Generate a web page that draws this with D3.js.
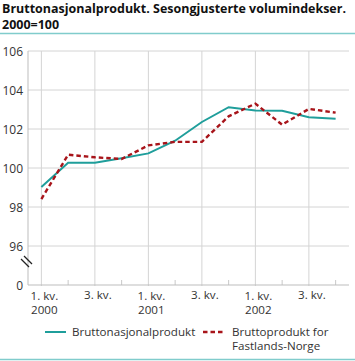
<!DOCTYPE html>
<html><head><meta charset="utf-8">
<script src="https://cdn.jsdelivr.net/npm/d3@7"></script>
<style>
html,body{margin:0;padding:0;background:#fff;}
svg{display:block;font-family:"Open Sans",sans-serif;}
</style></head>
<body>
<svg id="c" width="355" height="361"></svg>
<script>
const quarters = ["2000Q1","2000Q2","2000Q3","2000Q4","2001Q1","2001Q2","2001Q3","2001Q4","2002Q1","2002Q2","2002Q3","2002Q4"];
const bnp = [99.03,100.27,100.27,100.50,100.75,101.40,102.36,103.12,102.95,102.93,102.60,102.52];
const fastland = [98.41,100.68,100.55,100.46,101.16,101.34,101.34,102.65,103.30,102.22,103.03,102.84];
const yTicks = [96,98,100,102,104,106];
const xLabels = [["1. kv.","2000"],["3. kv."],["1. kv.","2001"],["3. kv."],["1. kv.","2002"],["3. kv."]];
const seriesNames = ["Bruttonasjonalprodukt", ["Bruttoprodukt for","Fastlands-Norge"]];
const title = ["Bruttonasjonalprodukt. Sesongjusterte volumindekser.","2000=100"];

const teal = "#1f9e9b", red = "#a8141a", grid = "#d4d4d4", txt = "#333";
const svg = d3.select("#c");
const L = 28, R = 349, T = 51, B = 285;
const x = d3.scalePoint().domain(quarters).range([L, R]).padding(0.5);
const y = d3.scaleLinear().domain([94,106]).range([B, T]);

// title
const t1 = svg.append("text").attr("x",2).attr("y",13).attr("font-weight","bold").attr("font-size",13).attr("fill","#111").text(title[0]);
const w = t1.node().getComputedTextLength();
const fs = 13 * 344 / w;
t1.attr("font-size", fs);
svg.append("text").attr("x",2).attr("y",29).attr("font-weight","bold").attr("font-size",fs).attr("fill","#111").text(title[1]);
svg.append("line").attr("x1",0).attr("x2",355).attr("y1",33.5).attr("y2",33.5).attr("stroke","#80cccc").attr("stroke-width",1.5);
svg.append("line").attr("x1",0).attr("x2",355).attr("y1",359.5).attr("y2",359.5).attr("stroke","#80cccc").attr("stroke-width",1.5);

// horizontal grid
svg.append("g").selectAll("line").data(yTicks).join("line")
  .attr("x1",L).attr("x2",R).attr("y1",d=>y(d)).attr("y2",d=>y(d))
  .attr("stroke",grid).attr("stroke-width",1);
// vertical grid at Q1/Q3
const major = quarters.filter((q,i)=>i%2===0);
const minor = quarters.filter((q,i)=>i%2===1);
svg.append("g").selectAll("line").data(major).join("line")
  .attr("x1",d=>x(d)).attr("x2",d=>x(d)).attr("y1",T).attr("y2",B+1)
  .attr("stroke",grid).attr("stroke-width",1);
svg.append("g").selectAll("line").data(minor).join("line")
  .attr("x1",d=>x(d)).attr("x2",d=>x(d)).attr("y1",B-5).attr("y2",B)
  .attr("stroke","#c8c8c8").attr("stroke-width",1);
// axes lines
svg.append("line").attr("x1",L).attr("x2",R).attr("y1",B).attr("y2",B).attr("stroke","#bdbdbd");
svg.append("line").attr("x1",L).attr("x2",L).attr("y1",T).attr("y2",B).attr("stroke","#bdbdbd");
// break marks
[0,3].forEach(o=>{
  svg.append("line").attr("x1",24).attr("y1",256).attr("x2",32).attr("y2",264)
   .attr("stroke","#222").attr("stroke-width",1.2)
   .attr("transform",`translate(${-o},${o})`);
});

// y labels
svg.append("g").selectAll("text").data(yTicks).join("text")
  .attr("x",23).attr("y",d=>y(d)+4.5).attr("text-anchor","end")
  .attr("font-size",12).attr("fill",txt).text(d=>d);
svg.append("text").attr("x",23).attr("y",B+4.5).attr("text-anchor","end").attr("font-size",12).attr("fill",txt).text("0");

// x labels
const xl = svg.append("g");
major.forEach((q,i)=>{
  xLabels[i].forEach((s,j)=>{
    xl.append("text").attr("text-anchor","middle").attr("font-size",11.6).attr("fill",txt)
      .attr("x",x(q)+3).attr("y",(i%2? 298.5:299.5)+j*14.5).text(s);
  });
});

// lines
const line = d3.line().x((d,i)=>x(quarters[i])).y(d=>y(d));
svg.append("path").datum(bnp).attr("d",line).attr("fill","none").attr("stroke",teal).attr("stroke-width",2);
svg.append("path").datum(fastland).attr("d",line).attr("fill","none").attr("stroke",red).attr("stroke-width",2.4).attr("stroke-dasharray","4.5,3");

// legend
svg.append("line").attr("x1",45).attr("x2",66).attr("y1",332).attr("y2",332).attr("stroke",teal).attr("stroke-width",2);
svg.append("text").attr("x",72).attr("y",335.5).attr("font-size",11.6).attr("fill",txt).text(seriesNames[0]);
svg.append("line").attr("x1",203).attr("x2",223).attr("y1",332).attr("y2",332).attr("stroke",red).attr("stroke-width",2.4).attr("stroke-dasharray","4.5,3");
seriesNames[1].forEach((s,j)=>svg.append("text").attr("font-size",11.6).attr("fill",txt).attr("x",232).attr("y",335.5+j*14.5).text(s));
</script>
</body></html>
